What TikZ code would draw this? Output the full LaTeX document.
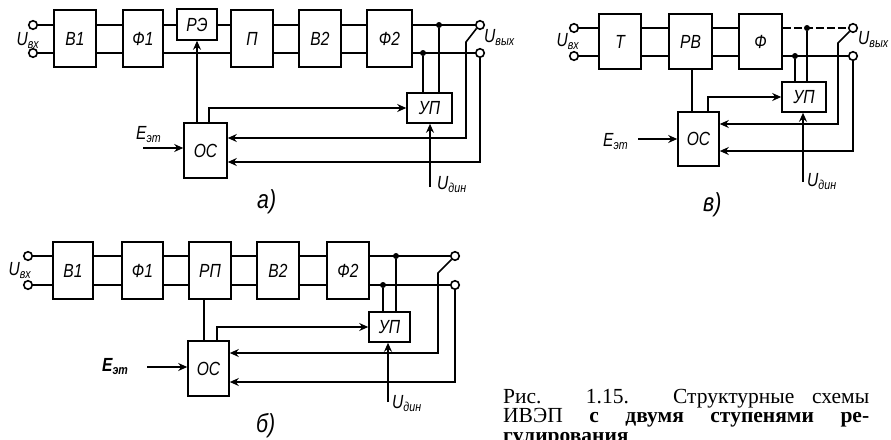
\documentclass[tikz,border=0pt]{standalone}
\usepackage{fontspec}
\setmainfont{Liberation Serif}
\newfontfamily\lf[FakeStretch=0.82]{Liberation Sans}
\usetikzlibrary{arrows.meta}
\newcommand\msub[1]{\raisebox{-3pt}{\fontsize{13}{13}\selectfont #1}}
\begin{document}
\begin{tikzpicture}[x=1pt,y=-1pt,
  blk/.style={draw, line width=1.6pt, inner sep=0pt, font=\lf\itshape\fontsize{19}{19}\selectfont},
  ln/.style={line width=1.6pt},
  arr/.style={line width=1.6pt, -{Stealth[length=9pt,width=8pt,inset=3pt]}},
  term/.style={circle, draw, line width=1.6pt, fill=white, minimum size=8.5pt, inner sep=0pt},
  jdot/.style={circle, fill, minimum size=6pt, inner sep=0pt},
  lab/.style={inner sep=0pt, font=\lf\itshape\fontsize{19}{19}\selectfont},
  dlab/.style={inner sep=0pt, font=\lf\itshape\fontsize{26}{26}\selectfont},
  captxt/.style={inner sep=0pt, anchor=base west, font=\fontsize{21.5}{21.5}\selectfont}]
\fill[white] (0,0) rectangle (891,439);
\useasboundingbox (0,0) rectangle (891,439);

% ---------- a) ----------
\node[term] (aIt) at (33,25) {};
\node[term] (aIb) at (33,53) {};
\node[blk, minimum width=42pt, minimum height=57pt] (aB1) at (75,38.5) {В1};
\node[blk, minimum width=40pt, minimum height=57pt] (aF1) at (143,38.5) {Ф1};
\node[blk, minimum width=40pt, minimum height=31pt] (aRE) at (197,24.5) {РЭ};
\node[blk, minimum width=42pt, minimum height=57pt] (aP) at (252,38.5) {П};
\node[blk, minimum width=42pt, minimum height=57pt] (aB2) at (320,38.5) {В2};
\node[blk, minimum width=45pt, minimum height=57pt] (aF2) at (389.5,38.5) {Ф2};
\node[jdot] (aJt) at (439,25) {};
\node[jdot] (aJb) at (423,53) {};
\node[blk, minimum width=45pt, minimum height=30pt] (aUP) at (429.5,108) {УП};
\node[blk, minimum width=43pt, minimum height=55pt] (aOC) at (205.5,150.5) {ОС};
\coordinate (aSw) at (466,42);
\coordinate (aC1) at (466,138);
\coordinate (aC2) at (480,162);
\coordinate (aE) at (143,148);
\coordinate (aU) at (430,187);
\draw[ln] (aIt.east) -- (aB1.west |- aIt);
\draw[ln] (aIb.east) -- (aB1.west |- aIb);
\draw[ln] (aB1.east |- aIt) -- (aF1.west |- aIt);
\draw[ln] (aB1.east |- aIb) -- (aF1.west |- aIb);
\draw[ln] (aF1.east |- aIt) -- (aRE.west |- aIt);
\draw[ln] (aF1.east |- aIb) -- (aP.west |- aIb);
\draw[ln] (aRE.east |- aIt) -- (aP.west |- aIt);
\draw[ln] (aP.east |- aIt) -- (aB2.west |- aIt);
\draw[ln] (aP.east |- aIb) -- (aB2.west |- aIb);
\draw[ln] (aB2.east |- aIt) -- (aF2.west |- aIt);
\draw[ln] (aB2.east |- aIb) -- (aF2.west |- aIb);
\node[term] (aOt) at (480,25) {};
\node[term] (aOb) at (480,53) {};
\draw[ln] (aF2.east |- aIt) -- (aOt.west);
\draw[ln] (aF2.east |- aIb) -- (aOb.west);
\draw[ln] (aJt) -- (aJt |- aUP.north);
\draw[ln] (aJb) -- (aJb |- aUP.north);
\draw[arr] (aOt.-135) -- (aSw) -- (aC1) -- (aOC.east |- aC1);
\draw[arr] (aOb.south) -- (aC2) -- (aOC.east |- aC2);
\draw[arr] (aRE.south |- aOC.north) -- (aRE.south);
\draw[arr] ([xshift=3.5pt]aOC.north) |- (aUP.west);
\draw[arr] (aE) -- (aOC.west |- aE);
\draw[arr] (aU) -- (aU |- aUP.south);
\node[lab, anchor=base east] (aUin) at (39,45) {U\msub{вх}};
\node[lab, anchor=base west] (aUout) at (484,42) {U\msub{вых}};
\node[lab, anchor=base west] (aEl) at (136,139) {E\msub{эт}};
\node[lab, anchor=base west] (aUd) at (437,189) {U\msub{дин}};
\node[dlab, anchor=base west] (aName) at (257,208) {а)};

% ---------- в) ----------
\node[term] (vIt) at (574,28) {};
\node[term] (vIb) at (574,56) {};
\node[blk, minimum width=42pt, minimum height=55pt] (vT) at (620,41.5) {Т};
\node[blk, minimum width=43pt, minimum height=55pt] (vRV) at (690.5,41.5) {РВ};
\node[blk, minimum width=43pt, minimum height=55pt] (vF) at (760.5,41.5) {Ф};
\node[jdot] (vJt) at (807,28) {};
\node[jdot] (vJb) at (795,56) {};
\node[blk, minimum width=44pt, minimum height=30pt] (vUP) at (804,97) {УП};
\node[blk, minimum width=41pt, minimum height=54pt] (vOC) at (698.5,139) {ОС};
\coordinate (vSw) at (838,43);
\coordinate (vC1) at (838,124);
\coordinate (vC2) at (853,151);
\coordinate (vE) at (638,139);
\coordinate (vU) at (803,182);
\draw[ln] (vIt.east) -- (vT.west |- vIt);
\draw[ln] (vIb.east) -- (vT.west |- vIb);
\draw[ln] (vT.east |- vIt) -- (vRV.west |- vIt);
\draw[ln] (vT.east |- vIb) -- (vRV.west |- vIb);
\draw[ln] (vRV.east |- vIt) -- (vF.west |- vIt);
\draw[ln] (vRV.east |- vIb) -- (vF.west |- vIb);
\node[term] (vOt) at (853,28) {};
\node[term] (vOb) at (853,56) {};
\draw[ln, dash pattern=on 8pt off 3pt] (vF.east |- vIt) -- (vOt.west);
\draw[ln] (vF.east |- vIb) -- (vOb.west);
\draw[ln] (vJt) -- (vJt |- vUP.north);
\draw[ln] (vJb) -- (vJb |- vUP.north);
\draw[arr] (vOt.-135) -- (vSw) -- (vC1) -- (vOC.east |- vC1);
\draw[arr] (vOb.south) -- (vC2) -- (vOC.east |- vC2);
\draw[ln] ([xshift=1.5pt]vRV.south) -- ([xshift=1.5pt]vRV.south |- vOC.north);
\draw[arr] ([xshift=9.5pt]vOC.north) |- (vUP.west);
\draw[arr] (vE) -- (vOC.west |- vE);
\draw[arr] (vU) -- (vU |- vUP.south);
\node[lab, anchor=base east] (vUin) at (579,46) {U\msub{вх}};
\node[lab, anchor=base west] (vUout) at (858,44) {U\msub{вых}};
\node[lab, anchor=base west] (vEl) at (603,146) {E\msub{эт}};
\node[lab, anchor=base west] (vUd) at (807,186) {U\msub{дин}};
\node[dlab, anchor=base west] (vName) at (703,211) {в)};

% ---------- б) ----------
\node[term] (bIt) at (28,256) {};
\node[term] (bIb) at (28,285) {};
\node[blk, minimum width=40pt, minimum height=57pt] (bB1) at (73,270.5) {В1};
\node[blk, minimum width=41pt, minimum height=57pt] (bF1) at (142.5,270.5) {Ф1};
\node[blk, minimum width=42pt, minimum height=57pt] (bRP) at (210,270.5) {РП};
\node[blk, minimum width=42pt, minimum height=57pt] (bB2) at (278,270.5) {В2};
\node[blk, minimum width=42pt, minimum height=57pt] (bF2) at (348,270.5) {Ф2};
\node[jdot] (bJt) at (396,256) {};
\node[jdot] (bJb) at (383,285) {};
\node[blk, minimum width=41pt, minimum height=30pt] (bUP) at (389.5,327) {УП};
\node[blk, minimum width=41pt, minimum height=55pt] (bOC) at (208.5,368.5) {ОС};
\coordinate (bSw) at (438,273);
\coordinate (bC1) at (438,353);
\coordinate (bC2) at (455,382);
\coordinate (bE) at (147,367);
\coordinate (bU) at (388,402);
\draw[ln] (bIt.east) -- (bB1.west |- bIt);
\draw[ln] (bIb.east) -- (bB1.west |- bIb);
\draw[ln] (bB1.east |- bIt) -- (bF1.west |- bIt);
\draw[ln] (bB1.east |- bIb) -- (bF1.west |- bIb);
\draw[ln] (bF1.east |- bIt) -- (bRP.west |- bIt);
\draw[ln] (bF1.east |- bIb) -- (bRP.west |- bIb);
\draw[ln] (bRP.east |- bIt) -- (bB2.west |- bIt);
\draw[ln] (bRP.east |- bIb) -- (bB2.west |- bIb);
\draw[ln] (bB2.east |- bIt) -- (bF2.west |- bIt);
\draw[ln] (bB2.east |- bIb) -- (bF2.west |- bIb);
\node[term] (bOt) at (455,256) {};
\node[term] (bOb) at (455,285) {};
\draw[ln] (bF2.east |- bIt) -- (bOt.west);
\draw[ln] (bF2.east |- bIb) -- (bOb.west);
\draw[ln] (bJt) -- (bJt |- bUP.north);
\draw[ln] (bJb) -- (bJb |- bUP.north);
\draw[arr] (bOt.-135) -- (bSw) -- (bC1) -- (bOC.east |- bC1);
\draw[arr] (bOb.south) -- (bC2) -- (bOC.east |- bC2);
\draw[ln] ([xshift=-6pt]bRP.south) -- ([xshift=-6pt]bRP.south |- bOC.north);
\draw[arr] ([xshift=8.5pt]bOC.north) |- (bUP.west);
\draw[arr] (bE) -- (bOC.west |- bE);
\draw[arr] (bU) -- (bU |- bUP.south);
\node[lab, anchor=base east] (bUin) at (31,275) {U\msub{вх}};
\node[lab, anchor=base west] (bEl) at (102,371) {\bfseries E\msub{\bfseries эт}};
\node[lab, anchor=base west] (bUd) at (392,408) {U\msub{дин}};
\node[dlab, anchor=base west] (bName) at (256,432) {б)};

% ---------- caption ----------
\node[captxt] (cap1) at (503,403) {\vtop{\baselineskip=19.5pt
  \hbox{\makebox[366pt][s]{Рис. 1.15. Структурные схемы}}
  \hbox{\makebox[366pt][s]{ИВЭП \textbf{с двумя ступенями ре-}}}
  \hbox{\textbf{гулирования}}}};
\end{tikzpicture}
\end{document}
